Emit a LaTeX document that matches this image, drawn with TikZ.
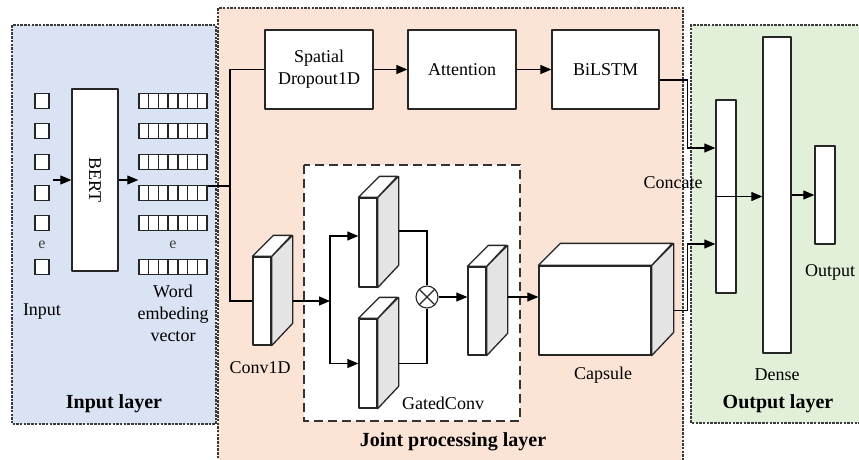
\documentclass[tikz,border=0pt]{standalone}
\usepackage{fontspec}
\setmainfont{Liberation Serif}
\newfontfamily\tnr{Liberation Serif}
\usetikzlibrary{arrows.meta,calc}
\definecolor{inblue}{HTML}{DAE3F3}
\definecolor{jorange}{HTML}{FBE3D6}
\definecolor{outgreen}{HTML}{E2F0D9}
\definecolor{sidegray}{HTML}{E4E4E4}
\definecolor{bordergray}{HTML}{3A3A3A}
% name, cx, cy, w, h, depth
\newcommand\slabblock[6]{%
  \node[box, minimum width=#4pt, minimum height=#5pt] (#1) at (#2,#3) {};
  \draw[boxline, fill=sidegray] (#1.north east) -- ++(#6,-#6) -- ++(0,#5) -- (#1.south east) -- cycle;
  \draw[boxline, fill=white] (#1.north west) -- ++(#6,-#6) -- ++(#4,0) -- (#1.north east) -- cycle;
}
\begin{document}
\begin{tikzpicture}[x=1pt,y=-1pt,
  boxline/.style={draw=black!85, line width=1.3pt, line join=round},
  box/.style={boxline, fill=white, rectangle, inner sep=0pt},
  arr/.style={line width=1.1pt, -{Triangle[length=11pt,width=9pt]}},
  ln/.style={line width=1.1pt},
  lbl/.style={font=\tnr\fontsize{18}{22}\selectfont, inner sep=0pt, align=center},
  blbl/.style={font=\tnr\fontsize{20}{24}\selectfont\bfseries, inner sep=0pt},
  layer/.style={draw=bordergray, line width=1.2pt, dash pattern=on 2.5pt off 1.2pt},
  cell/.style={draw=black!85, line width=1.5pt, fill=white, inner sep=0pt, minimum height=15pt},
  dots/.style={font=\tnr\fontsize{16}{16}\selectfont, inner sep=0pt, text=black!75}
]
\useasboundingbox (0,0) rectangle (859,459);
% layers
\fill[inblue] (12,25) rectangle (216,424);
\draw[layer] (12,25) rectangle (216,424);
\fill[jorange] (218,8) rectangle (683,462);
\draw[layer] (218,462) -- (218,8) -- (683,8) -- (683,462);
\fill[outgreen] (691,25) rectangle (862,423);
\draw[layer] (862,25) -- (691,25) -- (691,423) -- (862,423);
\fill[white] (304,165) rectangle (520,421);
\draw[line width=1.4pt, draw=black!80, dash pattern=on 9pt off 5pt] (304,165) rectangle (520,421);

% input layer
\foreach \r/\yy in {1/101,2/131,3/162,4/193,5/223,6/267}{
  \node[cell, minimum width=14pt] (in\r) at (42,\yy) {};
  \foreach \c in {0,...,6}{
    \node[cell, minimum width=9.7pt] (em\r\c) at ({143.85+9.71*\c},\yy) {};
  }
}
\node[dots] (dotsA) at (42,245) {e};
\node[dots] (dotsB) at (173,245) {e};
\node[box, minimum width=46pt, minimum height=182pt] (bert) at (95,180) {};
\node[lbl, rotate=-90] (berttxt) at (bert.center) {BERT};
\coordinate (inarr) at (53,180);
\draw[arr] (inarr) -- (bert.west);
\draw[arr] (bert.east) -- (bert.east -| em40.west);
\node[lbl] (inputlbl) at (42,312) {Input};
\node[lbl] (wordlbl) at (173,313) {Word\\embeding\\vector};
\node[blbl] (inlayer) at (114,404) {Input layer};

% top branch
\node[box, minimum width=108pt, minimum height=79pt, lbl] (spatial) at (319,69.5) {Spatial\\Dropout1D};
\node[box, minimum width=108pt, minimum height=79pt, lbl] (attn) at (462,69.5) {Attention};
\node[box, minimum width=107pt, minimum height=79pt, lbl] (bilstm) at (605.5,69.5) {BiLSTM};
\draw[arr] (spatial) -- (attn);
\draw[arr] (attn) -- (bilstm);

% split from embeddings
\coordinate (split) at (230,186);
\draw[ln] ([yshift=7pt]em46.east) -- (split);

% conv branch
\slabblock{conv}{262}{301}{18}{88}{21}
\draw[ln] (split) |- (conv.west);
\draw[ln] (split) |- (spatial.west);
\node[lbl] (convlbl) at (260,368) {Conv1D};

\slabblock{ga}{368}{242.5}{18}{89}{21}
\slabblock{gb}{368}{363.5}{18}{89}{21}
\slabblock{gc}{477}{311}{18}{88}{21}
\node[circle, draw=black!85, line width=1.1pt, fill=white, minimum size=22pt, inner sep=0pt,
  path picture={\draw[line width=1.1pt] (path picture bounding box.north west) -- (path picture bounding box.south east)
   (path picture bounding box.north east) -- (path picture bounding box.south west);}] (mul) at (427,297) {};
\coordinate (gsplit) at (330,301);
\draw[arr] ([xshift=21pt]conv.east) -- (gsplit);
\draw[arr] (gsplit) |- ([yshift=6.5pt]ga.west);
\draw[arr] (gsplit) |- (gb.west);
\draw[ln] ([xshift=21pt,yshift=11.5pt]ga.east) -| (mul.north);
\draw[ln] ([xshift=21pt]gb.east) -| (mul.south);
\draw[arr] (mul.east) -- (mul.east -| gc.west);
\node[lbl] (gatedlbl) at (443,403) {GatedConv};

% capsule
\slabblock{cap}{595}{310.5}{112}{89}{22}
\coordinate (gcout) at ([xshift=21pt,yshift=14pt]gc.east);
\draw[arr] (gcout) -- (gcout -| cap.west);
\node[lbl] (caplbl) at (603,375) {Capsule};
\node[blbl] (jlayer) at (453,442) {Joint processing layer};

% output layer
\node[box, minimum width=20pt, minimum height=193pt] (concat) at (726,196.5) {};
\node[box, minimum width=28pt, minimum height=316pt] (dense) at (777,195) {};
\node[box, minimum width=20pt, minimum height=98pt] (outp) at (825,195) {};
\draw[arr] ([yshift=-10.5pt]bilstm.east) -- ++(28,0) |- ([yshift=48.5pt]concat.west);
\draw[arr] ([xshift=22pt]cap.east) -- ++(14,0) |- ([yshift=-47.5pt]concat.west);
\draw[arr] (concat.west) -- (concat.west -| dense.west);
\draw[arr] (dense.east |- outp.west) -- (outp.west);
\node[lbl] (concatlbl) at (673,183) {Concate};
\node[lbl] (denselbl) at (777,375) {Dense};
\node[lbl] (outlbl) at (830,272) {Output};
\node[blbl] (outlayer) at (778,404) {Output layer};
\end{tikzpicture}
\end{document}
